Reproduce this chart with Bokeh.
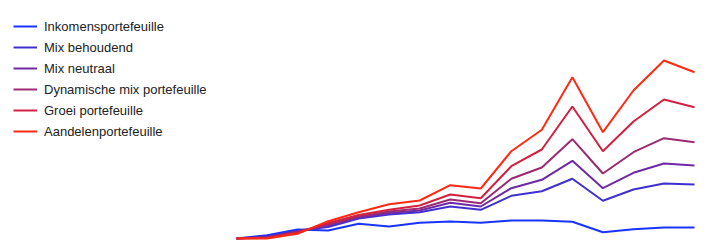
from bokeh.plotting import figure
from bokeh.models import Range1d, Legend, LegendItem
from bokeh.embed import file_html
from bokeh.resources import INLINE

periods = list(range(16))
series_names = ["Inkomensportefeuille", "Mix behoudend", "Mix neutraal",
                "Dynamische mix portefeuille", "Groei portefeuille", "Aandelenportefeuille"]
inkomens = [0, 3.3, 9, 8, 14.7, 12, 15.7, 17, 15.7, 18, 18, 16.7, 6.3, 9.3, 11, 11]
behoudend = [0, 2, 8, 11.5, 20, 24, 26.3, 32, 28.7, 42.7, 47.3, 59.7, 37.7, 49, 55, 54]
neutraal = [0, 1.5, 7, 13, 21, 25.5, 28, 35.7, 32, 50.3, 58.7, 77.7, 50.3, 65.7, 75, 73]
dynamisch = [0, 1, 6.5, 14, 22, 27, 30, 39, 35.3, 59.7, 71, 99.3, 65, 86.3, 100.3, 96.3]
groei = [0, 0.5, 6, 15.5, 23.5, 28.7, 33, 44, 40.3, 72.3, 89, 132, 87.3, 117, 139, 131.3]
aandelen = [0, 0, 4.7, 17.3, 26.3, 34.3, 38, 53.3, 50, 87.3, 108.7, 161.3, 106.3, 148, 178, 166.3]
colors = ["#1a33ff", "#4030d0", "#6e2aa6", "#9c2a72", "#d42040", "#ff2a14"]

data = [inkomens, behoudend, neutraal, dynamisch, groei, aandelen]

W, H = 715, 245
px_per_x = (694 - 236) / 15.0
x0 = -236 / px_per_x
x1 = 15 + (W - 694) / px_per_x

p = figure(width=W, height=H, output_backend="svg", toolbar_location=None,
           x_range=Range1d(x0, x1), y_range=Range1d(-7, 238),
           min_border=0, min_border_left=0, min_border_right=0,
           min_border_top=0, min_border_bottom=0)
p.axis.visible = False
p.grid.visible = False
p.outline_line_color = None
p.background_fill_color = "white"
p.border_fill_color = "white"

items = []
for name, vals, c in zip(series_names, data, colors):
    r = p.line(periods, vals, line_color=c, line_width=2)
    items.append(LegendItem(label=name, renderers=[r]))

legend = Legend(items=items, location=(13, 104), margin=0, padding=0, spacing=1,
                glyph_width=24, glyph_height=20, label_height=20, label_standoff=7,
                label_text_font="Liberation Sans", label_text_font_size="13px",
                label_text_color="#222222",
                border_line_alpha=0, background_fill_alpha=0)
p.add_layout(legend)

open("out.html", "w").write(file_html(p, INLINE))
